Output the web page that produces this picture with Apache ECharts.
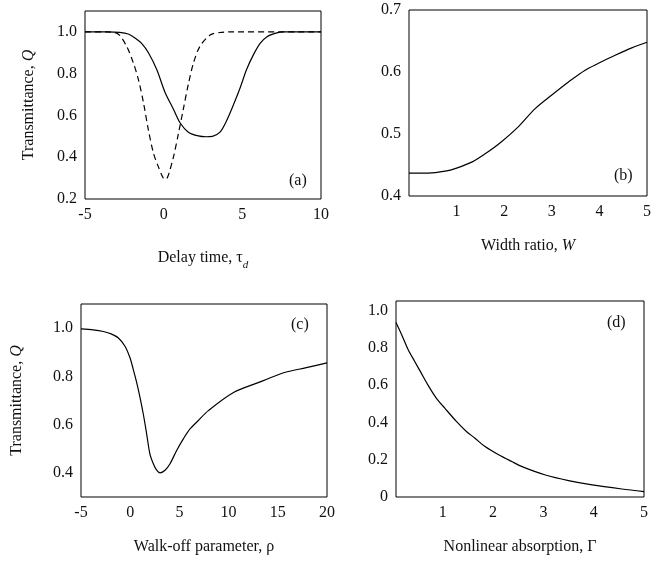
<!DOCTYPE html>
<html><head><meta charset="utf-8">
<script src="https://cdn.jsdelivr.net/npm/echarts@6/dist/echarts.min.js"></script>
<style>html,body{margin:0;padding:0;background:#fff}#c{width:664px;height:570px}</style>
</head><body><div id="c"></div>
<script>
// Panel (a): transmittance vs delay time
const aSolidX = [-5,-3.5,-2.8,-2.25,-1.8,-1.4,-0.97,-0.44,0.09,0.62,1.04,1.57,2.2,2.7,3.1,3.58,4.0,4.43,4.85,5.27,5.7,6.13,6.55,7.19,7.6,10];
const aSolidY = [1.0,1.0,0.998,0.99,0.97,0.945,0.90,0.82,0.71,0.63,0.565,0.52,0.502,0.498,0.50,0.52,0.575,0.65,0.73,0.82,0.89,0.945,0.976,0.995,1.0,1.0];
const aDashX = [-5,-3.7,-2.9,-2.35,-1.92,-1.6,-1.28,-0.97,-0.65,-0.34,-0.02,0.15,0.3,0.62,0.93,1.25,1.57,1.89,2.3,2.95,3.58,4.2,10];
const aDashY = [1.0,1.0,0.99,0.93,0.85,0.77,0.66,0.53,0.42,0.355,0.30,0.295,0.315,0.40,0.51,0.63,0.75,0.85,0.93,0.985,0.997,1.0,1.0];
// Panel (b): vs width ratio
const bX = [0,0.4,0.76,1.0,1.33,1.6,1.95,2.3,2.65,3.0,3.35,3.7,3.98,4.33,4.68,5.0];
const bY = [0.437,0.437,0.440,0.445,0.455,0.468,0.488,0.512,0.541,0.563,0.584,0.603,0.614,0.627,0.639,0.648];
// Panel (c): vs walk-off parameter
const cX = [-5,-3.75,-2.73,-1.88,-1.2,-0.53,-0.02,0.31,0.66,1.0,1.33,1.67,2.0,2.35,2.69,3.03,3.54,4.05,4.72,5.4,6.08,6.92,7.94,10.5,13.2,15.6,17.9,20];
const cY = [0.997,0.993,0.986,0.975,0.959,0.925,0.877,0.829,0.774,0.712,0.644,0.562,0.479,0.438,0.411,0.40,0.411,0.438,0.493,0.541,0.582,0.617,0.658,0.733,0.777,0.815,0.836,0.856];
// Panel (d): vs nonlinear absorption
const dX = [0.07,0.18,0.31,0.44,0.57,0.70,0.87,1.04,1.27,1.47,1.64,1.84,2.11,2.37,2.6,3.04,3.5,3.97,4.56,5.0];
const dY = [0.935,0.871,0.79,0.727,0.665,0.602,0.53,0.476,0.405,0.351,0.315,0.27,0.226,0.19,0.16,0.118,0.088,0.065,0.043,0.029];
// Tick labels
const aXTicks = [-5,0,5,10], aYTicks = [0.2,0.4,0.6,0.8,1.0];
const bXTicks = [1,2,3,4,5], bYTicks = [0.4,0.5,0.6,0.7];
const cXTicks = [-5,0,5,10,15,20], cYTicks = [0.4,0.6,0.8,1.0];
const dXTicks = [1,2,3,4,5], dYTicks = [0,0.2,0.4,0.6,0.8,1.0];

const zip = (xs, ys) => xs.map((x, i) => [x, ys[i]]);
const FONT = 'Liberation Serif';
const TXT = '#111';
const lab = (vals, fmt) => ({ customValues: vals, color: TXT, fontFamily: FONT, fontSize: 16, margin: 8, formatter: fmt });
const f1 = v => Number(v).toFixed(1);
const fInt = v => String(Math.round(v));
const fD = v => (Math.abs(v) < 1e-9 ? '0' : Number(v).toFixed(1));
const nameRich = {
  n: { fontFamily: FONT, fontSize: 16, color: TXT },
  i: { fontFamily: FONT, fontSize: 16, color: TXT, fontStyle: 'italic' },
  sub: { fontFamily: FONT, fontSize: 11, color: TXT, fontStyle: 'italic', verticalAlign: 'bottom', lineHeight: 26 }
};
function xA(gi, min, max, ticks, fmt, name, gap) {
  return { type: 'value', gridIndex: gi, min, max, axisLine: { show: false }, axisTick: { show: false },
    splitLine: { show: false }, axisLabel: lab(ticks, fmt), name, nameLocation: 'middle', nameGap: gap,
    nameTextStyle: { rich: nameRich } };
}
function yA(gi, min, max, ticks, fmt, name, gap) {
  return { type: 'value', gridIndex: gi, min, max, axisLine: { show: false }, axisTick: { show: false },
    splitLine: { show: false }, axisLabel: lab(ticks, fmt), name: name || '', nameLocation: 'middle', nameGap: gap || 40,
    nameTextStyle: { rich: nameRich } };
}
const gridBase = { show: true, borderColor: '#000', borderWidth: 1, backgroundColor: 'transparent', containLabel: false };
const line = (xi, yi, data, dashed) => ({ type: 'line', xAxisIndex: xi, yAxisIndex: yi, data, showSymbol: false, smooth: 0.3,
  lineStyle: { color: '#000', width: 1.2, type: dashed ? [6, 4] : 'solid' }, silent: true });
const panelLab = (x, y, t) => ({ type: 'text', left: x, top: y, style: { text: t, fontFamily: FONT, fontSize: 16, fill: TXT } });

const option = {
  animation: false,
  backgroundColor: '#fff',
  grid: [
    Object.assign({ left: 85, top: 11, width: 236, height: 188 }, gridBase),
    Object.assign({ left: 409, top: 10, width: 238, height: 186 }, gridBase),
    Object.assign({ left: 81, top: 304, width: 246, height: 193 }, gridBase),
    Object.assign({ left: 396, top: 301, width: 248, height: 196 }, gridBase)
  ],
  xAxis: [
    xA(0, -5, 10, aXTicks, fInt, '{n|Delay time, τ}{sub|d}', 46),
    xA(1, 0, 5, bXTicks, fInt, '{n|Width ratio, }{i|W}', 42),
    xA(2, -5, 20, cXTicks, fInt, '{n|Walk-off parameter, ρ}', 42),
    xA(3, 0.07, 5, dXTicks, fInt, '{n|Nonlinear absorption, Γ}', 42)
  ],
  yAxis: [
    yA(0, 0.2, 1.1, aYTicks, f1, '{n|Transmittance, }{i|Q}', 48),
    yA(1, 0.4, 0.7, bYTicks, f1),
    yA(2, 0.3, 1.1, cYTicks, f1, '{n|Transmittance, }{i|Q}', 56),
    yA(3, 0, 1.05, dYTicks, fD)
  ],
  series: [
    line(0, 0, zip(aSolidX, aSolidY), false),
    line(0, 0, zip(aDashX, aDashY), true),
    line(1, 1, zip(bX, bY), false),
    line(2, 2, zip(cX, cY), false),
    line(3, 3, zip(dX, dY), false)
  ],
  graphic: [
    panelLab(289, 173, '(a)'),
    panelLab(614, 168, '(b)'),
    panelLab(291, 317, '(c)'),
    panelLab(607, 315, '(d)')
  ]
};
const chart = echarts.init(document.getElementById('c'), null, { renderer: 'canvas' });
chart.setOption(option);
</script></body></html>
